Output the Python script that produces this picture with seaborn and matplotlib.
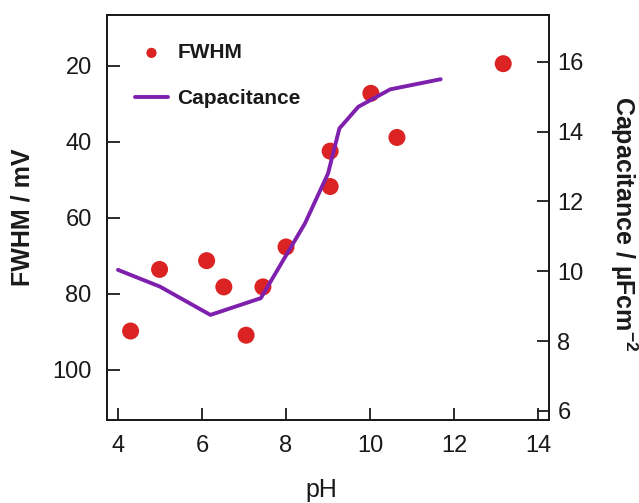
import matplotlib
matplotlib.use("Agg")
import matplotlib.pyplot as plt
import seaborn as sns
import pandas as pd

# ---- data ----
ph_fwhm = [4.30, 4.99, 6.11, 6.52, 7.05, 7.45, 8.00, 9.05, 9.05, 10.02, 10.64, 13.17]
fwhm = [89.8, 73.6, 71.3, 78.2, 90.9, 78.2, 67.7, 42.5, 51.8, 27.3, 38.9, 19.5]

ph_cap = [4.0, 5.0, 6.2, 7.4, 8.45, 9.0, 9.27, 9.72, 10.48, 11.68]
cap = [10.04, 9.56, 8.75, 9.23, 11.37, 12.80, 14.09, 14.71, 15.21, 15.50]

x_ticks = [4, 6, 8, 10, 12, 14]
fwhm_ticks = [20, 40, 60, 80, 100]
cap_ticks = [6, 8, 10, 12, 14, 16]

sns.set_theme(style="white")
plt.rcParams["font.family"] = ["Liberation Sans", "DejaVu Sans"]
plt.rcParams["mathtext.fontset"] = "custom"
plt.rcParams["mathtext.rm"] = "Liberation Sans"
plt.rcParams["mathtext.bf"] = "Liberation Sans:bold"

RED = "#dc2323"
PURPLE = "#7e1fae"

df_f = pd.DataFrame({"pH": ph_fwhm, "FWHM": fwhm})
df_c = pd.DataFrame({"pH": ph_cap, "Capacitance": cap})

fig = plt.figure(figsize=(6.39, 5.03), dpi=100)
ax = fig.add_axes([0.1674, 0.165, 0.6918, 0.8052])
ax2 = ax.twinx()

sns.scatterplot(data=df_f, x="pH", y="FWHM", ax=ax, color=RED, s=150,
                edgecolor="none", label="FWHM", legend=False)
sns.lineplot(data=df_c, x="pH", y="Capacitance", ax=ax2, color=PURPLE,
             linewidth=2.8, estimator=None, label="Capacitance", legend=False)

ax.set_xlim(3.738, 14.26)
ax.set_ylim(113.2, 6.7)
ax2.set_ylim(5.74, 17.34)
ax.set_xticks(x_ticks)
ax.set_yticks(fwhm_ticks)
ax2.set_yticks(cap_ticks)

for a in (ax, ax2):
    for sp in a.spines.values():
        sp.set_visible(True)
        sp.set_color("#1a1a1a")
        sp.set_linewidth(1.3)

ax.tick_params(axis="both", direction="in", length=9, width=1.3,
               colors="#1a1a1a", labelsize=17, labelcolor="#1a1a1a")
ax.tick_params(axis="x", pad=11, top=False, bottom=True)
ax.tick_params(axis="y", pad=11, left=True, right=False)
ax2.tick_params(axis="y", direction="in", length=9, width=1.3, pad=6,
                colors="#1a1a1a", labelsize=17, labelcolor="#1a1a1a",
                right=True, left=False)

ax.set_xlabel("pH", fontsize=18, color="#1a1a1a", va="center")
ax.xaxis.set_label_coords(0.486, -0.173)
ax.set_ylabel("FWHM / mV", fontsize=18, fontweight="bold",
              color="#1a1a1a", va="center", ha="center")
ax.yaxis.set_label_coords(-0.192, 0.5)
ax2.set_ylabel(r"Capacitance / µFcm$^{\mathbf{-2}}$", fontsize=18,
               fontweight="bold", color="#1a1a1a", rotation=270,
               va="center", ha="center")
ax2.yaxis.set_label_coords(1.170, 0.485)

h1, l1 = ax.get_legend_handles_labels()
h2, l2 = ax2.get_legend_handles_labels()
leg = ax2.legend(h1 + h2, l1 + l2, loc="upper left",
                 bbox_to_anchor=(0.063, 0.93), frameon=False,
                 borderpad=0, borderaxespad=0, markerscale=0.6,
                 handlelength=1.6, handletextpad=0.45, labelspacing=1.3,
                 prop={"size": 15, "weight": "bold"})
for t in leg.get_texts():
    t.set_color("#1a1a1a")

fig.savefig("out.png", dpi=100)
